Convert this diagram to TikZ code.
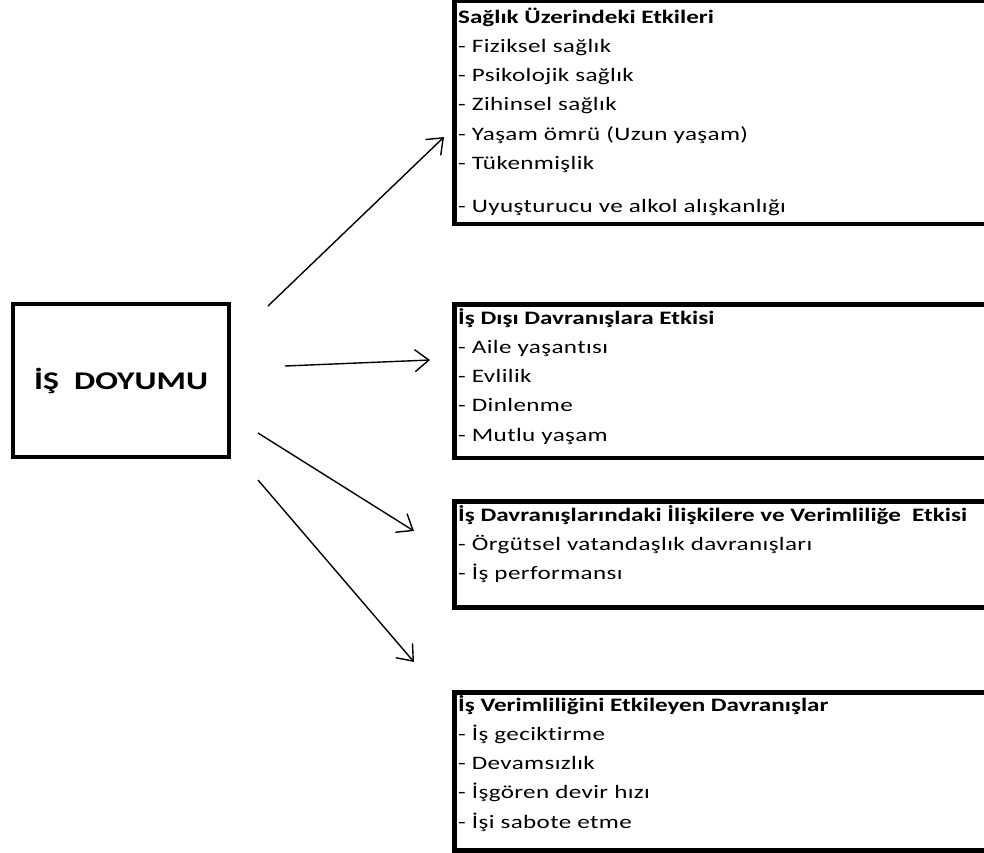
\documentclass[tikz,border=0pt]{standalone}
\usepackage{fontspec}
\setmainfont{Carlito}[FakeStretch=1.32, Ligatures=NoCommon, UprightFeatures={LetterSpace=2}]
\usetikzlibrary{arrows.meta}

\begin{document}
\begin{tikzpicture}[x=1pt, y=-1pt,
    panel/.style={draw, line width=4.5pt, inner sep=0pt, minimum width=548pt},
    list/.style={align=left, inner sep=0pt, font=\fontsize{19}{29.3}\selectfont},
    arr/.style={-{Straight Barb[length=14pt, width=22pt]}, line width=1.4pt}]
    \useasboundingbox (0,0) rectangle (984,852);
    % main box
    \node[draw, line width=4pt, minimum width=216pt, minimum height=153pt,
          font=\bfseries\fontsize{25.5}{30}\selectfont] (doyum) at (121,380.5) {İŞ\ \ DOYUMU};
    % boxes on the right
    \node[panel, anchor=north west, minimum height=223.5pt] (saglik) at (452,-2) {};
    \node[panel, anchor=north west, minimum height=153.5pt] (disi) at (452,302) {};
    \node[panel, anchor=north west, minimum height=106pt] (iliski) at (452,499) {};
    \node[panel, anchor=north west, minimum height=158pt] (verim) at (452,690) {};
    % texts (anchored at the baseline of their last line)
    \node[list, anchor=base west] (saglikT) at (458,212.8) {\textbf{Sağlık Üzerindeki Etkileri}\\
        - Fiziksel sağlık\\ - Psikolojik sağlık\\ - Zihinsel sağlık\\
        - Yaşam ömrü (Uzun yaşam)\\ - Tükenmişlik\\[14pt]
        - Uyuşturucu ve alkol alışkanlığı};
    \node[list, anchor=base west] (disiT) at (458,441.2) {\textbf{İş Dışı Davranışlara Etkisi}\\
        - Aile yaşantısı\\ - Evlilik\\ - Dinlenme\\ - Mutlu yaşam};
    \node[list, anchor=base west] (iliskiT) at (458,579.6) {\textbf{İş Davranışlarındaki İlişkilere ve Verimliliğe\ \ Etkisi}\\
        - Örgütsel vatandaşlık davranışları\\ - İş performansı};
    \node[list, anchor=base west] (verimT) at (458,828.2) {\textbf{İş Verimliliğini Etkileyen Davranışlar}\\
        - İş geciktirme\\ - Devamsızlık\\ - İşgören devir hızı\\ - İşi sabote etme};
    % arrows
    \coordinate (s1) at (268,306);  \coordinate (e1) at (444,137);
    \coordinate (s2) at (285,366);  \coordinate (e2) at (430,360);
    \coordinate (s3) at (258,433);  \coordinate (e3) at (414,531);
    \coordinate (s4) at (258,480);  \coordinate (e4) at (414,662);
    \draw[arr] (s1) -- (e1);
    \draw[arr] (s2) -- (e2);
    \draw[arr] (s3) -- (e3);
    \draw[arr] (s4) -- (e4);
\end{tikzpicture}
\end{document}
